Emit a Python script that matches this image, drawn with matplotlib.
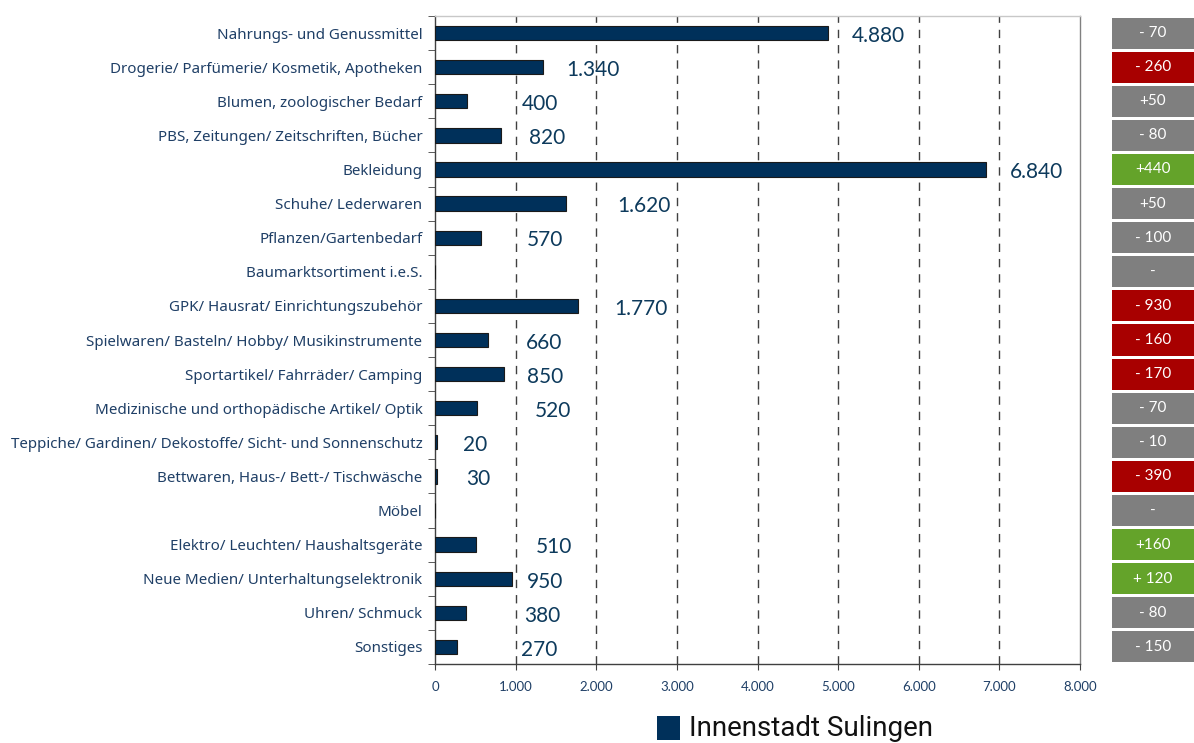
import matplotlib
matplotlib.use("Agg")
import matplotlib.pyplot as plt
from matplotlib.patches import Rectangle

categories = [
    "Nahrungs- und Genussmittel",
    "Drogerie/ Parfümerie/ Kosmetik, Apotheken",
    "Blumen, zoologischer Bedarf",
    "PBS, Zeitungen/ Zeitschriften, Bücher",
    "Bekleidung",
    "Schuhe/ Lederwaren",
    "Pflanzen/Gartenbedarf",
    "Baumarktsortiment i.e.S.",
    "GPK/ Hausrat/ Einrichtungszubehör",
    "Spielwaren/ Basteln/ Hobby/ Musikinstrumente",
    "Sportartikel/ Fahrräder/ Camping",
    "Medizinische und orthopädische Artikel/ Optik",
    "Teppiche/ Gardinen/ Dekostoffe/ Sicht- und Sonnenschutz",
    "Bettwaren, Haus-/ Bett-/ Tischwäsche",
    "Möbel",
    "Elektro/ Leuchten/ Haushaltsgeräte",
    "Neue Medien/ Unterhaltungselektronik",
    "Uhren/ Schmuck",
    "Sonstiges",
]
values = [4880, 1340, 400, 820, 6840, 1620, 570, 0, 1770, 660, 850, 520, 20, 30, 0, 510, 950, 380, 270]
value_labels = ["4.880", "1.340", "400", "820", "6.840", "1.620", "570", "", "1.770", "660",
                "850", "520", "20", "30", "", "510", "950", "380", "270"]
changes = ["- 70", "- 260", "+50", "- 80", "+440", "+50", "- 100", "-", "- 930", "- 160",
           "- 170", "- 70", "- 10", "- 390", "-", "+160", "+ 120", "- 80", "- 150"]
change_kind = ["n", "r", "n", "n", "g", "n", "n", "n", "r", "r",
               "r", "n", "n", "r", "n", "g", "g", "n", "n"]
xticks = [0, 1000, 2000, 3000, 4000, 5000, 6000, 7000, 8000]
xtick_labels = ["0", "1.000", "2.000", "3.000", "4.000", "5.000", "6.000", "7.000", "8.000"]
series_name = "Innenstadt Sulingen"

# label horizontal offsets from bar end (points) – layout only
label_offsets = [17, 17, 39, 20, 17, 37, 33, 0, 26, 27, 17, 42, 19, 21, 0, 43, 11, 42, 46]

NAVY = "#00305a"
TEXT = "#1f3f66"
kind_colors = {"n": "#7f7f7f", "r": "#a80000", "g": "#64a32a"}

plt.rcParams['font.family'] = ['Lato', 'DejaVu Sans']

W, H = 1194, 743
fig = plt.figure(figsize=(W / 100, H / 100), dpi=100)
left, right, top, bottom = 435, 1080, 16, 664
ax = fig.add_axes([left / W, 1 - bottom / H, (right - left) / W, (bottom - top) / H])

y = list(range(len(categories)))
ax.barh(y, values, height=0.42, color=NAVY, edgecolor="#1a1a1a", linewidth=0.8, zorder=3)

ax.set_xlim(0, 8000)
ax.set_ylim(len(categories) - 0.5, -0.5)
ax.set_xticks(xticks)
ax.set_xticklabels(xtick_labels, fontsize=9.5, color=TEXT)
ax.set_yticks(y)
ax.set_yticklabels(categories, fontsize=10.9, color=TEXT, family=["Noto Sans", "DejaVu Sans"])
ax.tick_params(axis="y", length=0, pad=9)
ax.tick_params(axis="x", length=4, color="#404040", pad=8)
ax.set_yticks([i - 0.5 for i in range(len(categories) + 1)], minor=True)
ax.tick_params(axis="y", which="minor", length=5, color="#404040", direction="out")

for xv in xticks[1:-1]:
    ax.axvline(xv, color="#404040", linestyle=(0, (6, 5)), linewidth=1.0, zorder=1)

ax.spines["top"].set_color("#c8c8c8")
ax.spines["right"].set_color("#808080")
ax.spines["bottom"].set_color("#404040")
ax.spines["left"].set_color("#404040")
for s in ax.spines.values():
    s.set_linewidth(1.0)

for i, (v, lab, off) in enumerate(zip(values, value_labels, label_offsets)):
    if lab:
        ax.annotate(lab, xy=(v, i), xytext=(off, -2), textcoords="offset points",
                    ha="left", va="center", fontsize=15, color="#0d3a5c", zorder=4)

# change boxes on the right
ax2 = fig.add_axes([1112 / W, 1 - bottom / H, 82 / W, (bottom - top) / H])
ax2.set_xlim(0, 1)
ax2.set_ylim(len(categories) - 0.5, -0.5)
ax2.axis("off")
for i, (c, k) in enumerate(zip(changes, change_kind)):
    ax2.add_patch(Rectangle((0, i - 0.455), 1, 0.91, facecolor=kind_colors[k], edgecolor="none"))
    ax2.text(0.5, i, c, ha="center", va="center", fontsize=11, color="white")

# legend
fig.patches.append(Rectangle((657 / W, 1 - 740 / H), 23 / W, 24 / H, transform=fig.transFigure,
                             facecolor=NAVY, edgecolor="none"))
fig.text(689 / W, 1 - 728 / H, series_name, ha="left", va="center", fontsize=20,
         color="#111111", family=["Roboto", "DejaVu Sans"])

fig.savefig("out.png", dpi=100)
